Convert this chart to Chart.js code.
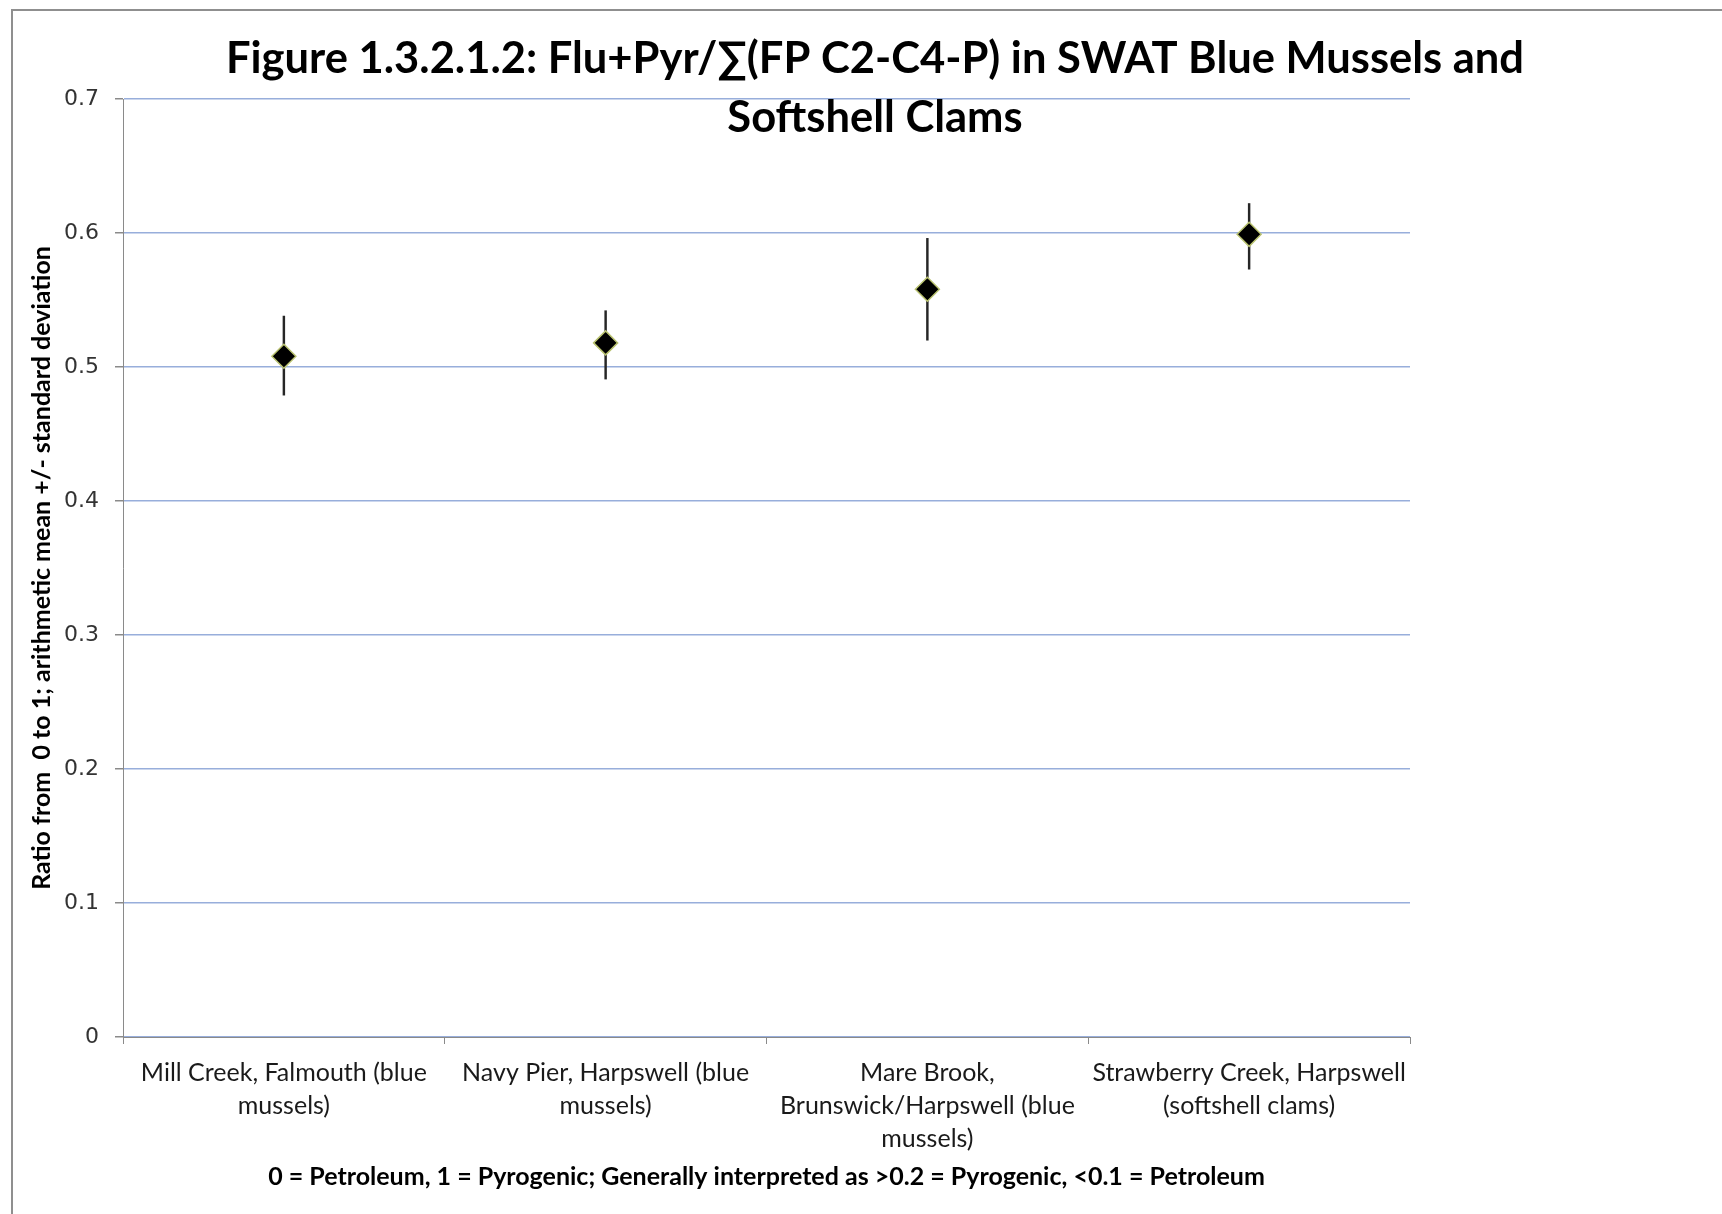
<!DOCTYPE html>
<html><head><meta charset="utf-8">
<script src="https://cdn.jsdelivr.net/npm/chart.js@4/dist/chart.umd.min.js"></script>
<style>html,body{margin:0;padding:0;background:#fff;}#wrap{width:1722px;height:1214px;}</style>
</head><body><div id="wrap"><canvas id="c" width="1722" height="1214"></canvas></div>
<script>
const sites = [
  ["Mill Creek, Falmouth (blue", "mussels)"],
  ["Navy Pier, Harpswell (blue", "mussels)"],
  ["Mare Brook,", "Brunswick/Harpswell (blue", "mussels)"],
  ["Strawberry Creek, Harpswell", "(softshell clams)"]
];
const means  = [0.508, 0.518, 0.558, 0.599];
const sdLow  = [0.479, 0.491, 0.520, 0.573];
const sdHigh = [0.538, 0.542, 0.596, 0.622];
const yMin = 0, yMax = 0.7, yStep = 0.1;
const titleLines = ["Figure 1.3.2.1.2: Flu+Pyr/\u2211(FP C2-C4-P) in SWAT Blue Mussels and", "Softshell Clams"];
const yAxisTitle = "Ratio from  0 to 1; arithmetic mean +/- standard deviation";
const xAxisTitle = "0 = Petroleum, 1 = Pyrogenic; Generally interpreted as >0.2 = Pyrogenic, <0.1 = Petroleum";

const framePlugin = {
  id: 'frame',
  beforeDraw(chart) {
    const ctx = chart.ctx;
    ctx.save();
    ctx.fillStyle = '#fff';
    ctx.fillRect(0, 0, chart.width, chart.height);
    ctx.strokeStyle = '#8f8f8f';
    ctx.lineWidth = 2;
    ctx.beginPath();
    ctx.moveTo(12, chart.height);
    ctx.lineTo(12, 10);
    ctx.lineTo(chart.width, 10);
    ctx.stroke();
    ctx.restore();
  },
  afterDraw(chart) {
    const ctx = chart.ctx;
    ctx.save();
    ctx.fillStyle = '#000';
    ctx.font = 'bold 43.5px Lato, "DejaVu Sans", sans-serif';
    ctx.textAlign = 'center';
    ctx.textBaseline = 'middle';
    ctx.fillText(titleLines[0], 875, 59);
    ctx.fillText(titleLines[1], 875, 118);
    ctx.restore();
  }
};

new Chart(document.getElementById('c'), {
  type: 'bar',
  data: {
    labels: sites,
    datasets: [
      {
        type: 'line',
        label: 'Mean',
        data: means,
        showLine: false,
        pointStyle: 'rectRot',
        pointRadius: 12,
        pointHoverRadius: 12,
        pointBackgroundColor: '#000',
        pointBorderColor: '#b9c270',
        pointBorderWidth: 1.5,
        order: 0
      },
      {
        type: 'bar',
        label: 'SD',
        data: sdLow.map((l, i) => [l, sdHigh[i]]),
        backgroundColor: '#262626',
        borderWidth: 0,
        barThickness: 1.8,
        order: 1
      }
    ]
  },
  options: {
    responsive: false,
    animation: false,
    devicePixelRatio: 1,
    layout: { padding: { left: 0, right: 312, top: 99, bottom: 0 } },
    plugins: { legend: { display: false }, tooltip: { enabled: false }, title: { display: false } },
    scales: {
      x: {
        offset: true,
        grid: { display: true, drawOnChartArea: false, drawTicks: true, tickLength: 7, color: '#8a8a8a', offset: true },
        border: { color: '#8a8a8a', width: 1 },
        ticks: { color: '#1a1a1a', font: { family: 'Lato', size: 25, lineHeight: 1.32 }, maxRotation: 0, autoSkip: false, padding: 12 },
        title: { display: true, text: xAxisTitle, color: '#000', font: { family: 'Lato', size: 25, weight: 'bold' }, padding: { top: 4, bottom: 22 } },
        afterFit(scale) { scale.height = 177; }
      },
      y: {
        min: yMin, max: yMax,
        ticks: { stepSize: yStep, color: '#333', font: { family: 'DejaVu Sans', size: 22 }, padding: 16,
          callback: v => (Math.round(v * 10) / 10).toString() },
        grid: { color: '#98aedb', lineWidth: 1.5, tickColor: '#8a8a8a', tickLength: 8, drawTicks: true },
        border: { color: '#8a8a8a', width: 1 },
        title: { display: true, text: yAxisTitle, color: '#000', font: { family: 'Lato', size: 25, weight: 'bold' }, padding: { top: 27, bottom: 4 } },
        afterFit(scale) { scale.width = 123; }
      }
    }
  },
  plugins: [framePlugin]
});
</script>
</body></html>
